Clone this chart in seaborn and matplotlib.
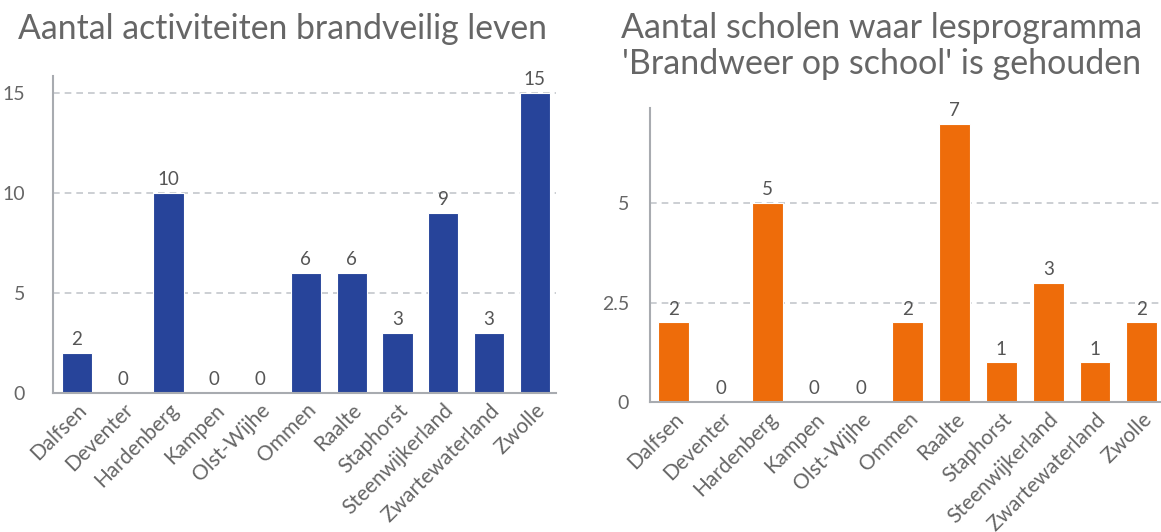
import matplotlib
matplotlib.use("Agg")
import matplotlib.pyplot as plt
import seaborn as sns
import pandas as pd

gemeenten = ["Dalfsen", "Deventer", "Hardenberg", "Kampen", "Olst-Wijhe", "Ommen",
             "Raalte", "Staphorst", "Steenwijkerland", "Zwartewaterland", "Zwolle"]
activiteiten = [2, 0, 10, 0, 0, 6, 6, 3, 9, 3, 15]
scholen = [2, 0, 5, 0, 0, 2, 7, 1, 3, 1, 2]
title_left = "Aantal activiteiten brandveilig leven"
title_right = "Aantal scholen waar lesprogramma\n'Brandweer op school' is gehouden"
yticks_left = [0, 5, 10, 15]
yticks_right = [0, 2.5, 5]
ytick_labels_right = ["0", "2.5", "5"]

sns.set_style("white")
plt.rcParams['font.family'] = ['Lato', 'DejaVu Sans']
TXT = "#666666"
GRID = "#c4c7cc"

W, H = 1161, 532
fig = plt.figure(figsize=(W / 100, H / 100), dpi=100)

def px_axes(x0, y_top, x1, y_bot):
    return fig.add_axes([x0 / W, 1 - y_bot / H, (x1 - x0) / W, (y_bot - y_top) / H])

ax1 = px_axes(53, 76, 556, 393)
ax2 = px_axes(650, 108, 1161, 402)

df1 = pd.DataFrame({"gemeente": gemeenten, "waarde": activiteiten})
df2 = pd.DataFrame({"gemeente": gemeenten, "waarde": scholen})

def draw(ax, df, color, yticks, ylabels, ylim, xlim, pad):
    ax.set_axisbelow(True)
    for t in yticks[1:]:
        ax.axhline(t, color=GRID, lw=1.2, ls=(0, (4, 3)), zorder=0)
    sns.barplot(data=df, x="gemeente", y="waarde", color=color, width=0.66,
                saturation=1, edgecolor="white", linewidth=0.8, ax=ax, zorder=2)
    for i, v in enumerate(df["waarde"]):
        ax.text(i, v + (ylim[1] * 0.016), str(v), ha="center", va="bottom",
                fontsize=13.5, color="#555555")
    ax.set_ylim(*ylim)
    ax.set_xlim(*xlim)
    ax.set_yticks(yticks)
    ax.set_yticklabels(ylabels)
    ax.set_xlabel("")
    ax.set_ylabel("")
    for s in ["top", "right"]:
        ax.spines[s].set_visible(False)
    for s in ["left", "bottom"]:
        ax.spines[s].set_color("#a8abb0")
        ax.spines[s].set_linewidth(1.5)
    ax.tick_params(axis="y", length=0, pad=pad, labelsize=14, labelcolor=TXT)
    ax.tick_params(axis="x", length=0, pad=5, labelsize=15, labelcolor=TXT)
    plt.setp(ax.get_xticklabels(), rotation=45, ha="right", rotation_mode="anchor")

draw(ax1, df1, "#27449A", yticks_left, [str(t) for t in yticks_left], (0, 15.85),
     (-0.52, 10.46), 20)
draw(ax2, df2, "#EE6C0A", yticks_right, ytick_labels_right, (0, 7.39),
     (-0.51, 10.41), 15)

fig.text(283 / W, 1 - 29 / H, title_left, ha="center", va="center", fontsize=24.3, color=TXT)
fig.text(882 / W, 1 - 46 / H, title_right, ha="center", va="center", fontsize=24.5,
         color=TXT, linespacing=1.12)

fig.savefig("out.png", dpi=100)
